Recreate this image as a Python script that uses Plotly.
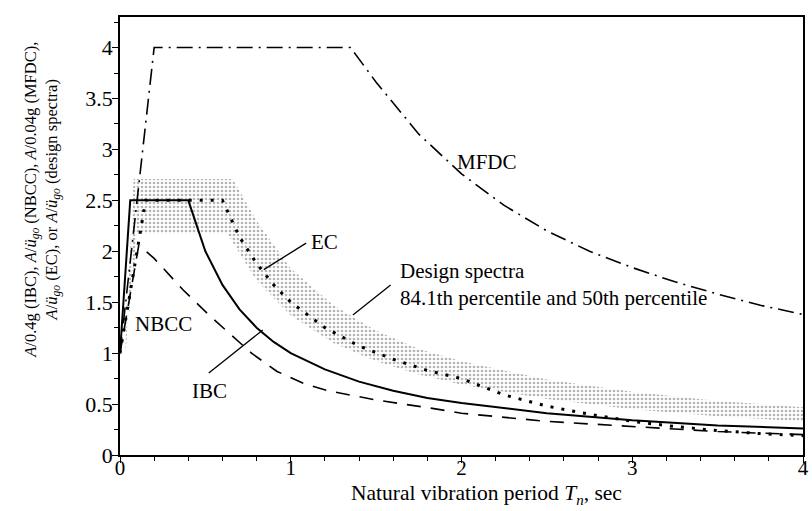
import plotly.graph_objects as go

# ---------------- data ----------------
T_IBC = [0, 0.06, 0.40, 0.5, 0.6, 0.7, 0.8, 0.9, 1.0, 1.2, 1.4, 1.6, 1.8, 2.0, 2.5, 3.0, 3.5, 4.0]
A_IBC = [1.0, 2.5, 2.5, 2.0, 1.67, 1.43, 1.25, 1.11, 1.0, 0.84, 0.72, 0.63, 0.56, 0.51, 0.41, 0.34, 0.29, 0.26]

T_NBCC = [0, 0.11, 0.2, 0.37, 0.53, 0.77, 0.92, 1.08, 1.22, 1.5, 1.82, 2.0, 2.5, 3.0, 3.5, 4.0]
A_NBCC = [1.0, 2.06, 1.93, 1.62, 1.36, 1.0, 0.82, 0.70, 0.63, 0.54, 0.46, 0.41, 0.33, 0.28, 0.23, 0.2]

T_MFDC = [0, 0.2, 1.35, 1.5, 1.75, 2.0, 2.25, 2.5, 2.75, 3.0, 3.25, 3.5, 3.75, 4.0]
A_MFDC = [1.0, 4.0, 4.0, 3.66, 3.15, 2.76, 2.45, 2.2, 2.0, 1.84, 1.70, 1.58, 1.47, 1.38]

T_EC = [0, 0.15, 0.6, 0.7, 0.8, 0.9, 1.0, 1.2, 1.4, 1.6, 1.8, 2.0, 2.25, 2.5, 2.75, 3.0, 3.25, 3.5, 3.75, 4.0]
A_EC = [1.0, 2.5, 2.5, 2.14, 1.88, 1.67, 1.5, 1.25, 1.07, 0.94, 0.83, 0.75, 0.59, 0.48, 0.40, 0.33, 0.28, 0.24, 0.21, 0.19]

# design spectra band: 84.1th percentile (upper) and 50th percentile (lower)
T_84 = [0, 0.03, 0.08, 0.66, 0.8, 1.0, 1.25, 1.5, 1.75, 2.0, 2.5, 3.0, 3.5, 4.0]
A_84 = [1.0, 1.0, 2.71, 2.71, 2.3, 1.83, 1.47, 1.22, 1.04, 0.92, 0.74, 0.62, 0.53, 0.47]
T_50 = [0, 0.03, 0.1, 0.63, 0.8, 1.0, 1.25, 1.5, 1.75, 2.0, 2.5, 3.0, 3.5, 4.0]
A_50 = [1.0, 1.0, 2.17, 2.17, 1.71, 1.37, 1.1, 0.92, 0.79, 0.69, 0.55, 0.45, 0.38, 0.33]

X_TICKS = [0, 1, 2, 3, 4]
Y_TICKS = [0, 0.5, 1, 1.5, 2, 2.5, 3, 3.5, 4]
Y_TICK_TEXT = ["0", "0.5", "1", "1.5", "2", "2.5", "3", "3.5", "4"]

FONT = "Liberation Serif, Times New Roman, serif"

fig = go.Figure()

# shaded band (closed polygon)
fig.add_trace(go.Scatter(
    x=T_84 + T_50[::-1], y=A_84 + A_50[::-1],
    mode="lines", fill="toself", line=dict(width=0, color="rgba(0,0,0,0)"),
    fillcolor="rgba(0,0,0,0)",
    fillpattern=dict(shape=".", fgcolor="#6a6a6a", bgcolor="white", size=4, solidity=0.35),
    hoverinfo="skip"))

fig.add_trace(go.Scatter(x=T_EC, y=A_EC, mode="lines",
                         line=dict(color="black", width=3, dash="3px,8px")))
fig.add_trace(go.Scatter(x=T_NBCC, y=A_NBCC, mode="lines",
                         line=dict(color="black", width=1.6, dash="14px,10px")))
fig.add_trace(go.Scatter(x=T_IBC, y=A_IBC, mode="lines",
                         line=dict(color="black", width=2)))
fig.add_trace(go.Scatter(x=T_MFDC, y=A_MFDC, mode="lines",
                         line=dict(color="black", width=1.6, dash="16px,6px,2px,6px")))

annos = []
# curve labels
labels = [
    ("NBCC", 0.255, 1.29, "center"),
    ("IBC", 0.522, 0.63, "center"),
    ("EC", 1.196, 2.09, "center"),
    ("MFDC", 2.148, 2.88, "center"),
    ("Design spectra<br>84.1th percentile and 50th percentile", 1.626, 1.675, "left"),
]
for txt, x, y, anc in labels:
    annos.append(dict(x=x, y=y, xref="x", yref="y", text=txt, showarrow=False,
                      xanchor=anc, yanchor="middle", align="left",
                      font=dict(family=FONT, size=21, color="black")))

# leader lines from labels to curves (head -> tail), drawn as line shapes
leaders = [
    (0.842, 1.82, 1.09, 2.08),
    (1.364, 1.374, 1.585, 1.67),
    (0.836, 1.227, 0.52, 0.805),
]
shapes = [dict(type="line", xref="x", yref="y", x0=hx, y0=hy, x1=tx, y1=ty,
               line=dict(color="black", width=1.3)) for hx, hy, tx, ty in leaders]

# axis titles
annos.append(dict(xref="paper", yref="paper", x=0.537, y=-0.09, showarrow=False,
                  text="Natural vibration period <i>T<sub>n</sub></i>, sec",
                  xanchor="center", yanchor="middle",
                  font=dict(family=FONT, size=21.5, color="black")))
annos.append(dict(xref="paper", yref="paper", x=-0.1147, y=0.582, showarrow=False,
                  textangle=-90,
                  text="<i>A</i>/0.4g (IBC), <i>A</i>/<i>ü<sub>go</sub></i> (NBCC), <i>A</i>/0.04g (MFDC),<br>"
                       "<i>A</i>/<i>ü<sub>go</sub></i> (EC), or <i>A</i>/<i>ü<sub>go</sub></i> (design spectra)",
                  xanchor="center", yanchor="middle", align="center",
                  font=dict(family=FONT, size=16.5, color="black")))

fig.update_layout(
    width=812, height=511,
    margin=dict(l=120, r=3, t=17, b=56),
    paper_bgcolor="white", plot_bgcolor="white",
    showlegend=False,
    font=dict(family=FONT, size=20, color="black"),
    annotations=annos,
    shapes=shapes,
)
fig.update_xaxes(range=[0, 4], tickvals=X_TICKS, ticktext=[str(v) for v in X_TICKS],
                 showgrid=False, zeroline=False, showline=True, linecolor="black", linewidth=1.5,
                 mirror=True, ticks="outside", ticklen=6, tickwidth=1.3, tickcolor="black",
                 ticklabelstandoff=-13, ticklabeloverflow="allow",
                 minor=dict(dtick=0.2, ticks="outside", ticklen=4, tickwidth=1, tickcolor="black"),
                 tickfont=dict(family=FONT, size=21, color="black"))
fig.update_yaxes(range=[0, 4.3], tickvals=Y_TICKS, ticktext=Y_TICK_TEXT,
                 showgrid=False, zeroline=False, showline=True, linecolor="black", linewidth=1.5,
                 mirror=True, ticks="outside", ticklen=6, tickwidth=1.3, tickcolor="black",
                 ticklabelstandoff=-5,
                 minor=dict(dtick=0.25, ticks="outside", ticklen=4, tickwidth=1, tickcolor="black"),
                 tickfont=dict(family=FONT, size=22, color="black"))

# remove the default page margin so the 812x511 figure fills the window exactly
fig.write_html("out.html", config={"displayModeBar": False},
               post_script="document.body.style.margin='0';document.body.style.overflow='hidden';")
